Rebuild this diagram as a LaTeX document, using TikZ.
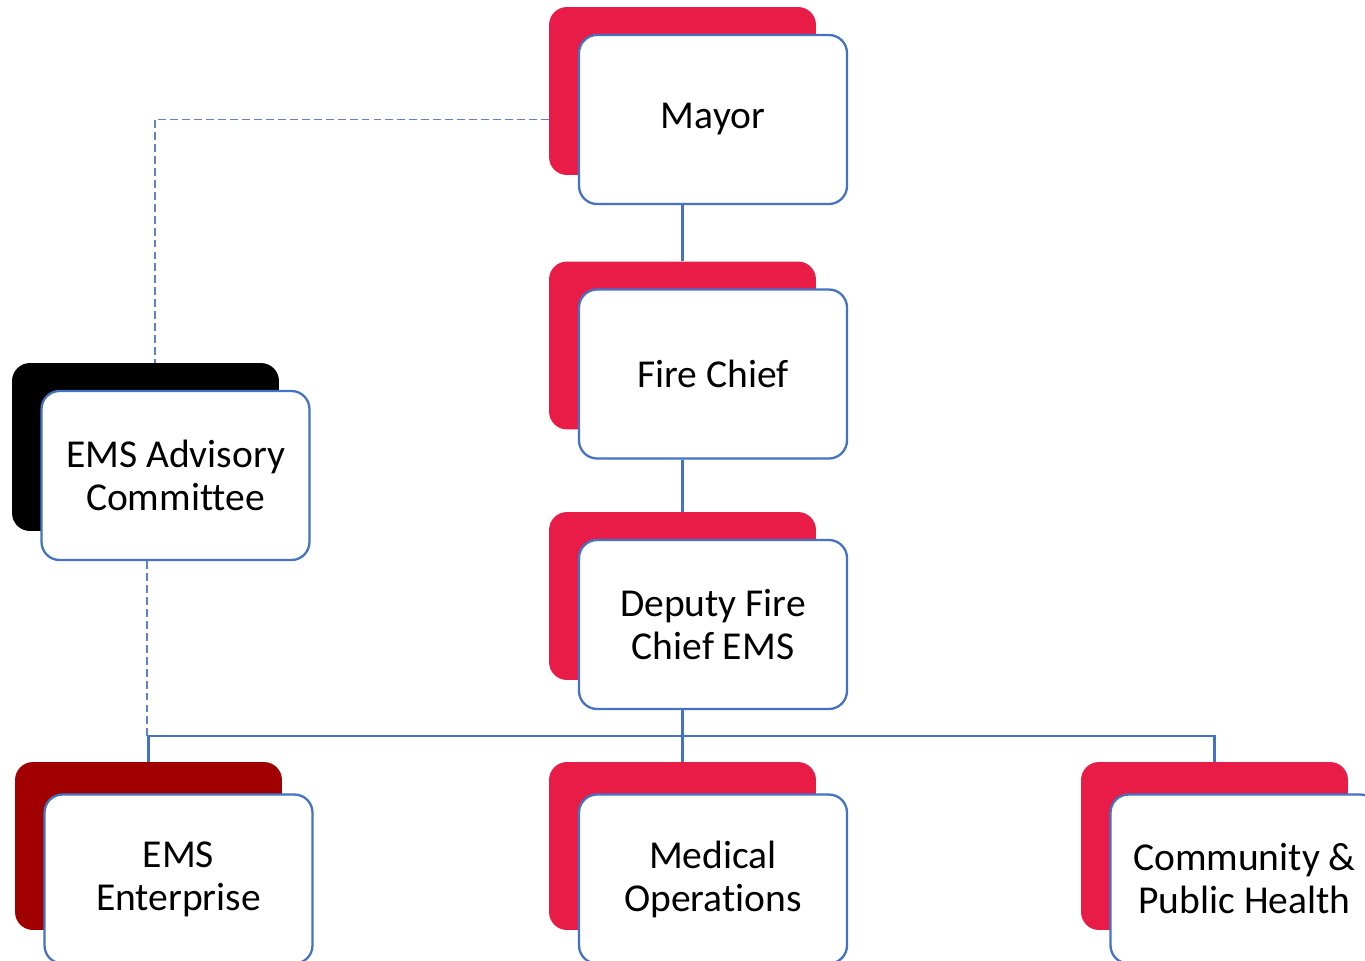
\documentclass[tikz,border=0pt]{standalone}
\usepackage{fontspec}
\setmainfont{Carlito}[Ligatures=CommonOff]
\usetikzlibrary{positioning}

\definecolor{chartred}{RGB}{233,28,72}
\definecolor{chartdarkred}{RGB}{160,0,0}
\definecolor{chartblue}{RGB}{68,114,196}
\definecolor{dashblue}{RGB}{95,130,205}

\tikzstyle{backbox}=[rounded corners=0.36cm, minimum width=5.34cm, minimum height=3.36cm, inner sep=0pt]
\tikzstyle{orgbox}=[draw=chartblue, line width=1.3pt, fill=white, rounded corners=0.36cm, minimum width=5.36cm, minimum height=3.38cm, align=center, font=\fontsize{22.5}{24.5}\selectfont]
\tikzstyle{link}=[chartblue, line width=1.4pt]
\tikzstyle{dashlink}=[dashblue, line width=0.75pt, dash pattern=on 4.5pt off 2.3pt]

\begin{document}
\begin{tikzpicture}[x=0.02cm, y=-0.02cm]
      \useasboundingbox (0,0) rectangle (1365,960);
      \clip (0,0) rectangle (1365,960);

      % shadow boxes
      \node[backbox, fill=chartred] (mayorbg) at (682.5, 91) {};
      \node[backbox, fill=chartred] (firebg) at (682.5, 345.5) {};
      \node[backbox, fill=chartred] (deputybg) at (682.5, 596) {};
      \node[backbox, fill=black] (advisorybg) at (145.5, 447) {};
      \node[backbox, fill=chartdarkred] (enterprisebg) at (148.5, 846) {};
      \node[backbox, fill=chartred] (medicalbg) at (682.5, 846) {};
      \node[backbox, fill=chartred] (communitybg) at (1214.5, 846) {};

      % front boxes
      \node[orgbox] (mayor) at (713, 119.5) {Mayor};
      \node[orgbox] (fire) at (713, 374) {Fire Chief};
      \node[orgbox] (deputy) at (713, 624.5) {Deputy Fire\\Chief EMS};
      \node[orgbox] (advisory) at (175.5, 475.5) {EMS Advisory\\Committee};
      \node[orgbox] (enterprise) at (178.5, 879) {EMS\\Enterprise};
      \node[orgbox] (medical) at (713, 879) {Medical\\Operations};
      \node[orgbox] (community) at (1244.5, 879) {Community \&\\Public Health};

      \coordinate (bar) at (682.5, 736);
      \coordinate (advtop) at (155, 363);

      \draw[link] (mayor.south -| mayorbg) -- (firebg.north);
      \draw[link] (fire.south -| firebg) -- (deputybg.north);
      \draw[link] (deputy.south -| deputybg) -- (bar);
      \draw[link] (enterprisebg.north) |- (communitybg.north |- bar) -- (communitybg.north);
      \draw[link] (bar) -- (medicalbg.north);

      \draw[dashlink] (mayorbg.west |- mayor.center) -| (advtop);
      \draw[dashlink] (advisory.south -| 147,0) -- (bar -| 147,0);
    \end{tikzpicture}
\end{document}
